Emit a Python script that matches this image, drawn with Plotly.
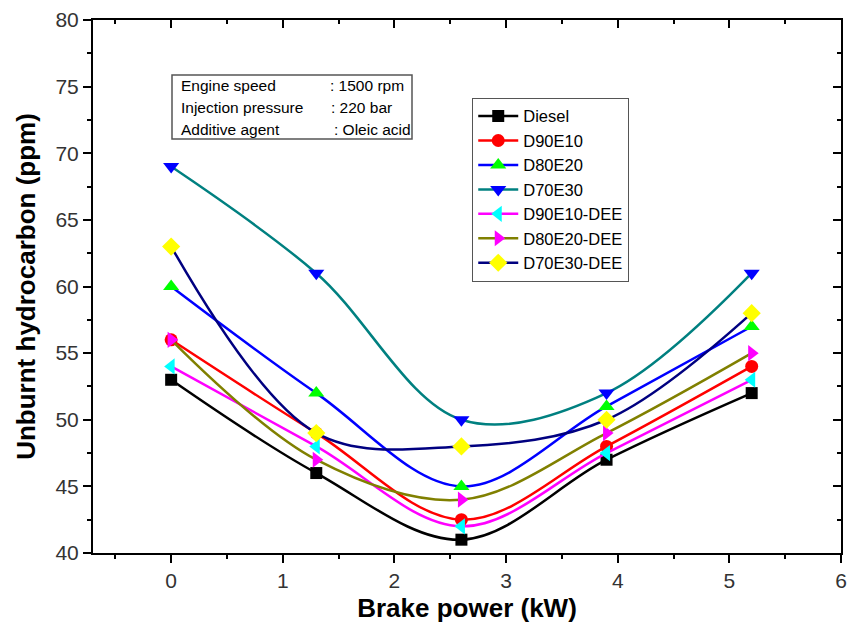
import plotly.graph_objects as go

brake_power = [0, 1.3, 2.6, 3.9, 5.2]
series_names = ["Diesel", "D90E10", "D80E20", "D70E30", "D90E10-DEE", "D80E20-DEE", "D70E30-DEE"]
diesel = [53, 46, 41, 47, 52]
d90e10 = [56, 49, 42.5, 48, 54]
d80e20 = [60, 52, 45, 51, 57]
d70e30 = [69, 61, 50, 52, 61]
d90e10_dee = [54, 48, 42, 47.5, 53]
d80e20_dee = [56, 47, 44, 49, 55]
d70e30_dee = [63, 49, 48, 50, 58]
values = [diesel, d90e10, d80e20, d70e30, d90e10_dee, d80e20_dee, d70e30_dee]

line_colors = ["#000000", "#ff0000", "#0000ff", "#008080", "#ff00ff", "#808000", "#000080"]
marker_colors = ["#000000", "#ff0000", "#00ff00", "#0000ff", "#00ffff", "#ff00ff", "#ffff00"]
symbols = ["square", "circle", "triangle-up", "triangle-down", "triangle-left", "triangle-right", "diamond"]
sizes = [12, 13, 14, 14, 14, 14, 14]

fig = go.Figure()
for name, vals, lc, mc, sym, sz in zip(series_names, values, line_colors, marker_colors, symbols, sizes):
    fig.add_trace(go.Scatter(
        x=brake_power, y=vals, name=name, mode="lines+markers",
        line=dict(color=lc, width=2.5, shape="spline", smoothing=1.0),
        marker=dict(symbol=sym, color=mc, size=sz, line=dict(width=0)),
    ))

axis_font = dict(family="Liberation Sans, Arial", size=21, color="#333333")
title_font = dict(family="Liberation Sans, Arial", size=26, color="#000000")

fig.update_layout(
    width=861, height=626,
    margin=dict(l=93, r=20, t=20, b=73, autoexpand=False),
    plot_bgcolor="white", paper_bgcolor="white",
    showlegend=True,
    legend=dict(x=0.507, y=0.854, xanchor="left", yanchor="top",
                bordercolor="#555555", borderwidth=1, bgcolor="white",
                font=dict(family="Liberation Sans, Arial", size=16.5, color="#000000"),
                tracegroupgap=0, itemwidth=40),
    xaxis=dict(range=[-0.7, 6], tick0=0, dtick=1, ticks="outside", ticklen=8, tickwidth=2,
               tickcolor="black", showline=True, linecolor="black", linewidth=2,
               showgrid=False, zeroline=False, tickfont=axis_font, automargin=False,
               minor=dict(tick0=0, dtick=0.5, ticks="outside", ticklen=4, tickwidth=2, tickcolor="black"),
               title=dict(text="<b>Brake power (kW)</b>", font=title_font, standoff=8)),
    yaxis=dict(range=[40, 80], tick0=40, dtick=5, ticks="outside", ticklen=8, tickwidth=2,
               tickcolor="black", showline=True, linecolor="black", linewidth=2,
               showgrid=False, zeroline=False, tickfont=axis_font, automargin=False,
               minor=dict(tick0=40, dtick=2.5, ticks="outside", ticklen=4, tickwidth=2, tickcolor="black"),
               title=dict(text="<b>Unburnt hydrocarbon (ppm)</b>", font=title_font, standoff=12)),
    xaxis2=dict(overlaying="x", side="top", matches="x", range=[-0.7, 6], tick0=0, dtick=1,
                ticks="inside", ticklen=8, tickwidth=2, tickcolor="black", showticklabels=False,
                showline=True, linecolor="black", linewidth=2, showgrid=False, zeroline=False,
                automargin=False,
                minor=dict(tick0=0, dtick=0.5, ticks="inside", ticklen=4, tickwidth=2, tickcolor="black")),
    yaxis2=dict(overlaying="y", side="right", range=[40, 80], tick0=40, dtick=5,
                ticks="inside", ticklen=8, tickwidth=2, tickcolor="black", showticklabels=False,
                showline=True, linecolor="black", linewidth=2, showgrid=False, zeroline=False,
                automargin=False,
                minor=dict(tick0=40, dtick=2.5, ticks="inside", ticklen=4, tickwidth=2, tickcolor="black")),
)

# dummy invisible trace to activate secondary axes
fig.add_trace(go.Scatter(x=[0], y=[40], xaxis="x2", yaxis="y2", mode="markers",
                         marker=dict(opacity=0), showlegend=False, hoverinfo="skip"))

# info box
info_labels = ["Engine speed", "Injection pressure", "Additive agent"]
info_values = [": 1500 rpm", ": 220 bar", ": Oleic acid"]
info_font = dict(family="Liberation Sans, Arial", size=15.5, color="#000000")
fig.add_shape(type="rect", xref="paper", yref="paper",
              x0=(172 - 93) / 748, x1=(412 - 93) / 748,
              y0=1 - (139 - 20) / 533, y1=1 - (75 - 20) / 533,
              line=dict(color="#555555", width=1.5), fillcolor="white", layer="above")
value_x = [328, 329, 332]
for i, (lab, val) in enumerate(zip(info_labels, info_values)):
    ypix = 86 + i * 21.5
    yp = 1 - (ypix - 20) / 533
    fig.add_annotation(xref="paper", yref="paper", x=(179 - 93) / 748, y=yp, text=lab,
                       showarrow=False, xanchor="left", yanchor="middle", font=info_font)
    fig.add_annotation(xref="paper", yref="paper", x=(value_x[i] - 93) / 748, y=yp, text=val,
                       showarrow=False, xanchor="left", yanchor="middle", font=info_font)

fig.write_html("out.html")
